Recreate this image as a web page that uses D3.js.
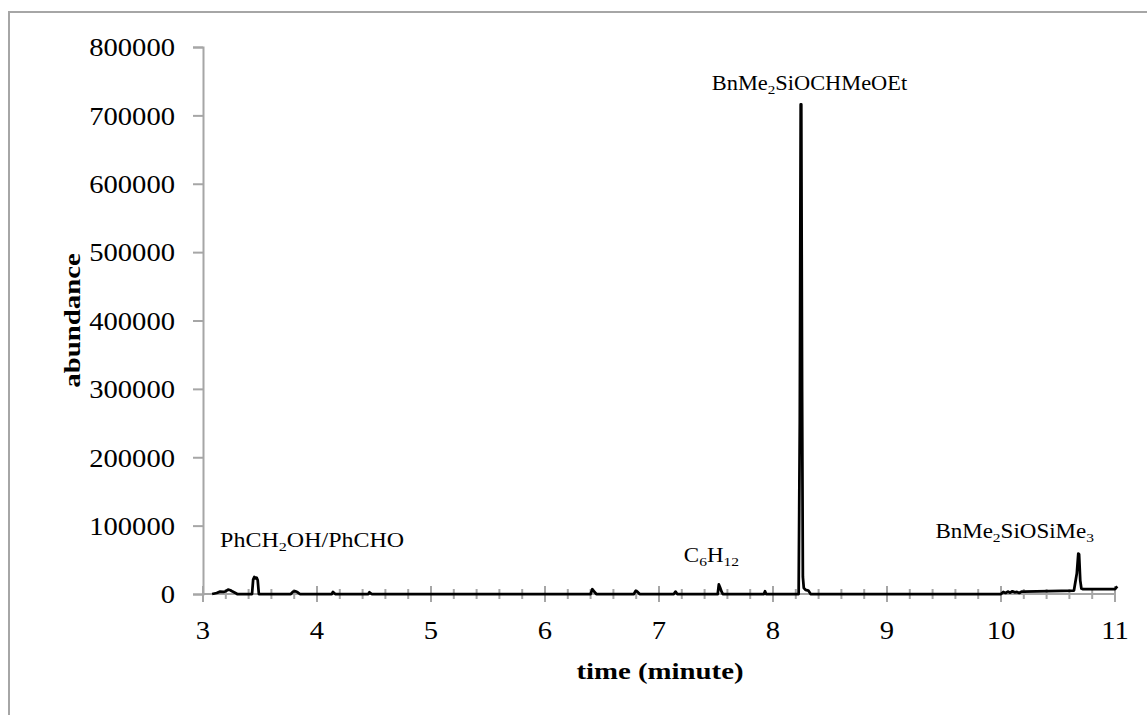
<!DOCTYPE html>
<html>
<head>
<meta charset="utf-8">
<script src="https://cdn.jsdelivr.net/npm/d3@7"></script>
<style>
  html, body { margin: 0; padding: 0; background: #fff; }
  svg { display: block; }
</style>
</head>
<body>
<svg id="chart" width="1147" height="715"></svg>
<script>
// Chromatogram trace: retention time (minute) and detector abundance
const times = [
  3.08, 3.12, 3.15, 3.18, 3.20, 3.22, 3.24, 3.26, 3.28, 3.30,
  3.43, 3.44, 3.45, 3.46, 3.47, 3.48, 3.49,
  3.77, 3.79, 3.81, 3.83, 3.85,
  4.13, 4.14, 4.16,
  4.45, 4.46, 4.48,
  6.40, 6.415, 6.43, 6.45,
  6.78, 6.795, 6.81, 6.83,
  7.13, 7.145, 7.16,
  7.515, 7.525, 7.535, 7.55, 7.56,
  7.92, 7.93, 7.94,
  8.225, 8.235, 8.243, 8.248, 8.255, 8.262, 8.27, 8.285, 8.31, 8.33,
  10.00, 10.02, 10.04, 10.06, 10.08, 10.10, 10.12, 10.14, 10.16, 10.18, 10.20,
  10.64, 10.665, 10.678, 10.685, 10.695, 10.705, 10.72,
  11.00, 11.02
];
const abundance = [
  0, 1500, 3500, 3000, 4000, 6500, 5500, 3500, 2000, 0,
  0, 21000, 25000, 23000, 24000, 20000, 0,
  0, 3500, 4000, 2500, 0,
  0, 3000, 0,
  0, 2500, 0,
  0, 7000, 4000, 0,
  0, 4500, 3500, 0,
  0, 3500, 0,
  0, 14000, 10000, 3000, 0,
  0, 4000, 0,
  0, 250000, 716000, 716000, 300000, 25000, 9000, 6000, 5000, 0,
  0, 3000, 1500, 3500, 2000, 4000, 2500, 3000, 1500, 3500, 3500,
  5000, 30000, 59000, 58000, 20000, 8000, 7000,
  7000, 11000
];

// Axis ticks
const xTickValues = [3, 4, 5, 6, 7, 8, 9, 10, 11];
const yTickValues = [0, 100000, 200000, 300000, 400000, 500000, 600000, 700000, 800000];

// Peak annotations: anchor time, anchor abundance, text parts [text, isSubscript]
const peakLabels = [
  { t: 3.15, v: 69000, anchor: "start", sx: 1.2,
    parts: [["PhCH", 0], ["2", 1], ["OH/PhCHO", 0]] },
  { t: 7.46, v: 47000, anchor: "middle", sx: 1.15,
    parts: [["C", 0], ["6", 1], ["H", 0], ["12", 1]] },
  { t: 8.32, v: 737000, anchor: "middle", sx: 1.12,
    parts: [["BnMe", 0], ["2", 1], ["SiOCHMeOEt", 0]] },
  { t: 10.12, v: 82000, anchor: "middle", sx: 1.15,
    parts: [["BnMe", 0], ["2", 1], ["SiOSiMe", 0], ["3", 1]] }
];

const svg = d3.select("#chart");
const W = 1147, H = 715;
const margin = { left: 203, right: 32, top: 47, bottom: 121 };

const x = d3.scaleLinear().domain([3, 11]).range([margin.left, W - margin.right]);
const y = d3.scaleLinear().domain([0, 800000]).range([H - margin.bottom, margin.top]);

const axisColor = "#a6a6a6";
const serif = "'Liberation Serif', 'Times New Roman', serif";
const stretch = 1.1;   // horizontal widening of the serif face

// outer frame
svg.append("rect")
  .attr("x", 9).attr("y", 12)
  .attr("width", 1160).attr("height", 720)
  .attr("fill", "none")
  .attr("stroke", axisColor)
  .attr("stroke-width", 2);

// y axis
const yAxis = d3.axisLeft(y)
  .tickValues(yTickValues)
  .tickSize(10)
  .tickPadding(18)
  .tickFormat(d3.format("d"));
const gy = svg.append("g")
  .attr("transform", `translate(${margin.left},0)`)
  .call(yAxis);
gy.select(".domain").attr("stroke", axisColor).attr("stroke-width", 2);
gy.selectAll(".tick line").attr("stroke", axisColor).attr("stroke-width", 2);
gy.selectAll(".tick text")
  .attr("x", -28 / stretch)
  .attr("dy", "0.34em")
  .attr("transform", `scale(${stretch},1)`)
  .attr("font-family", serif)
  .attr("font-size", 26)
  .attr("fill", "#000");

// x axis: base line, minor ticks every 0.2 min, longer major ticks at whole minutes
const gx = svg.append("g").attr("transform", `translate(0,${y(0)})`);
gx.append("line")
  .attr("x1", x(3)).attr("x2", x(11))
  .attr("stroke", axisColor).attr("stroke-width", 2);
const minorTicks = d3.range(0, 41).map(i => 3 + i * 0.2);
gx.selectAll("line.minor")
  .data(minorTicks)
  .join("line")
  .attr("class", "minor")
  .attr("x1", d => x(d)).attr("x2", d => x(d))
  .attr("y1", -5).attr("y2", 5)
  .attr("stroke", axisColor).attr("stroke-width", 2);
gx.selectAll("line.major")
  .data(xTickValues)
  .join("line")
  .attr("class", "major")
  .attr("x1", d => x(d)).attr("x2", d => x(d))
  .attr("y1", -8).attr("y2", 8)
  .attr("stroke", axisColor).attr("stroke-width", 2);
gx.selectAll("text.xlab")
  .data(xTickValues)
  .join("text")
  .attr("class", "xlab")
  .attr("transform", d => `translate(${x(d)},45) scale(${stretch},1)`)
  .attr("text-anchor", "middle")
  .attr("font-family", serif)
  .attr("font-size", 26)
  .text(d => d);

// chromatogram trace
const pts = times.map((t, i) => [t, abundance[i]]);
const line = d3.line().x(d => x(d[0])).y(d => y(d[1]));
svg.append("path")
  .datum(pts)
  .attr("d", line)
  .attr("fill", "none")
  .attr("stroke", "#000")
  .attr("stroke-width", 2.75)
  .attr("stroke-linejoin", "round");

// axis titles
svg.append("text")
  .attr("transform", `translate(${(x(3) + x(11)) / 2 + 1},679) scale(1.2,1)`)
  .attr("text-anchor", "middle")
  .attr("font-family", serif)
  .attr("font-weight", "bold")
  .attr("font-size", 24)
  .text("time (minute)");

svg.append("text")
  .attr("transform", `translate(80,${(y(0) + y(800000)) / 2}) rotate(-90) scale(1.2,1)`)
  .attr("text-anchor", "middle")
  .attr("font-family", serif)
  .attr("font-weight", "bold")
  .attr("font-size", 24)
  .text("abundance");

// peak labels with subscripts
peakLabels.forEach(lab => {
  const t = svg.append("text")
    .attr("transform", `translate(${x(lab.t)},${y(lab.v)}) scale(${lab.sx},1)`)
    .attr("text-anchor", lab.anchor)
    .attr("font-family", serif)
    .attr("font-size", 20);
  lab.parts.forEach(([s, sub], i) => {
    const ts = t.append("tspan").text(s);
    const prevSub = i > 0 && lab.parts[i - 1][1];
    if (sub) ts.attr("font-size", 13.5).attr("dy", prevSub ? 0 : 4);
    else ts.attr("dy", prevSub ? -4 : 0);
  });
});
</script>
</body>
</html>
